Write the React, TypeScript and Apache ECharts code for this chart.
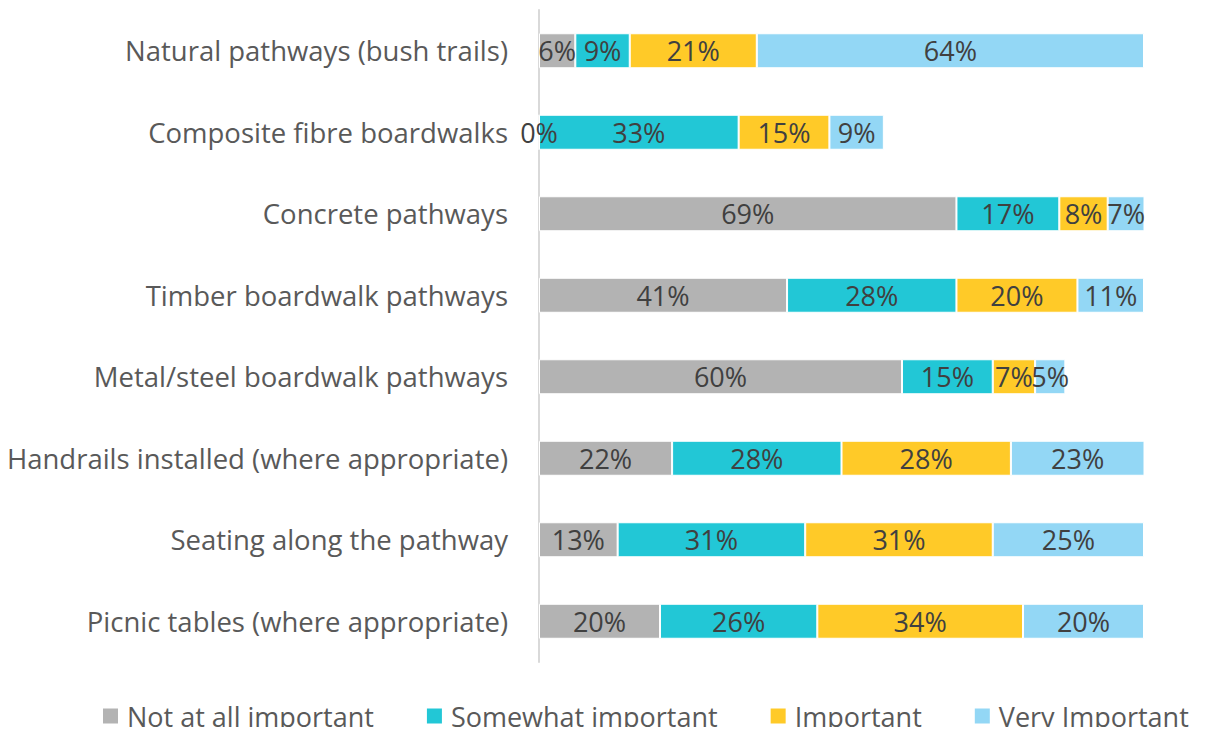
import React, { useEffect, useRef } from "react";
import * as echarts from "echarts";

const categories = [
  "Natural pathways (bush trails)",
  "Composite fibre boardwalks",
  "Concrete pathways",
  "Timber boardwalk pathways",
  "Metal/steel boardwalk pathways",
  "Handrails installed (where appropriate)",
  "Seating along the pathway",
  "Picnic tables (where appropriate)",
];

const seriesNames = ["Not at all important", "Somewhat important", "Important", "Very Important"];

const notAtAll = [6, 0, 69, 41, 60, 22, 13, 20];
const somewhat = [9, 33, 17, 28, 15, 28, 31, 26];
const important = [21, 15, 8, 20, 7, 28, 31, 34];
const veryImportant = [64, 9, 7, 11, 5, 23, 25, 20];

const colors = ["#B3B3B3", "#22C7D6", "#FFCA28", "#93D7F5"];

const FONT = "'Open Sans', 'Noto Sans', sans-serif";

export default function App() {
  const ref = useRef<HTMLDivElement>(null);
  useEffect(() => {
    if (!ref.current) return;
    const chart = echarts.init(ref.current, null, { renderer: "svg" });
    const values = [notAtAll, somewhat, important, veryImportant];
    chart.setOption({
      animation: false,
      textStyle: { fontFamily: FONT },
      color: colors,
      grid: { left: 539, right: 61, top: 10, bottom: 73, containLabel: false },
      legend: {
        top: 699,
        left: 101,
        itemWidth: 17,
        itemHeight: 17,
        itemGap: 51,
        icon: "rect",
        padding: 0,
        textStyle: { fontSize: 27, lineHeight: 34, color: "#595959", fontFamily: FONT, padding: [0, 0, 0, 3] },
        data: seriesNames,
      },
      xAxis: {
        type: "value",
        min: 0,
        max: 100,
        show: false,
      },
      yAxis: {
        type: "category",
        data: categories,
        inverse: true,
        axisLine: { show: true, lineStyle: { color: "#D9D9D9", width: 2 } },
        axisTick: { show: false },
        axisLabel: { color: "#595959", fontSize: 27.5, margin: 31, fontFamily: FONT },
      },
      series: seriesNames.map((name, i) => ({
        name,
        type: "bar",
        stack: "total",
        barWidth: 35,
        data: values[i],
        itemStyle: { color: colors[i], borderColor: "#FFFFFF", borderWidth: 1 },
        label: {
          show: true,
          position: "inside",
          formatter: (p: any) => `${p.value}%`,
          color: "#404040",
          fontSize: 27,
          fontFamily: FONT,
        },
      })),
    });
    return () => chart.dispose();
  }, []);
  return <div ref={ref} style={{ width: 1205, height: 735, margin: -8 }} />;
}
